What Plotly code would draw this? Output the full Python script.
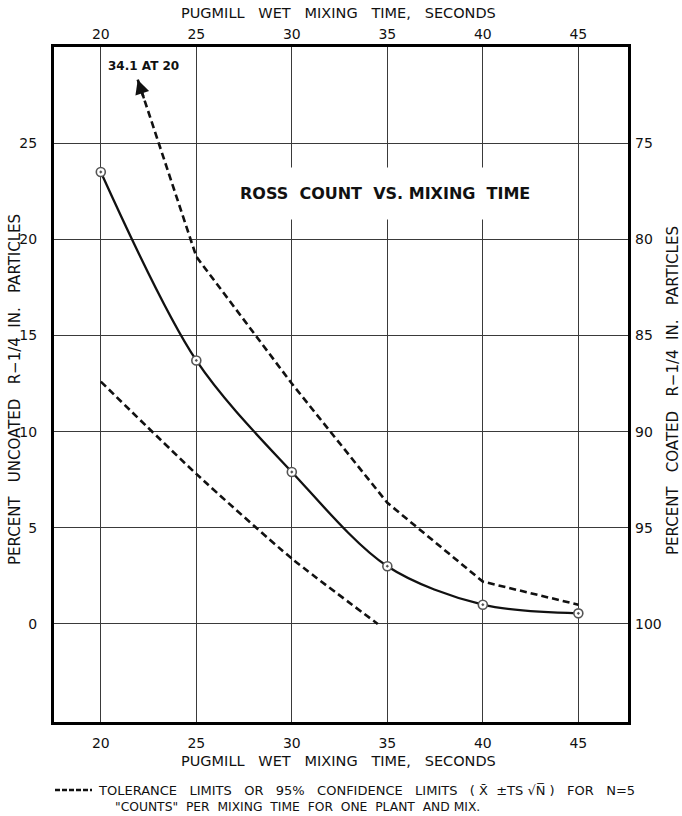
import plotly.graph_objects as go

# ---------------- data ----------------
TIME = [20, 25, 30, 35, 40, 45]
ROSS_COUNT = [23.5, 13.7, 7.9, 3.0, 1.0, 0.55]
UPPER_LIMIT = [34.1, 19.1, 12.5, 6.3, 2.2, 1.0]
LOWER_TIME = [20, 25, 30, 34.5]
LOWER_LIMIT = [12.6, 7.8, 3.4, 0.0]
X_TICKS = [20, 25, 30, 35, 40, 45]
Y_TICKS = [0, 5, 10, 15, 20, 25]
Y2_TICKS = [75, 80, 85, 90, 95, 100]
UPPER_LABEL = "34.1 AT 20"
ARROW_TIP_Y = 28.3   # where the off-scale upper limit line is cut with an arrow

X_RANGE = [17.55, 47.6]
Y_RANGE = [-5.1, 30.0]

FONT = "DejaVu Sans, Verdana, sans-serif"
INK = "#111111"

# layout helpers (figure pixel -> paper)
W, H = 682, 816
ML, MR, MT, MB = 54, 54, 47, 94
PW, PH = W - ML - MR, H - MT - MB


def px(x):
    return (x - ML) / PW


def py(y):
    return (H - MB - y) / PH


# cut point of the first upper-limit segment
t = (UPPER_LIMIT[0] - ARROW_TIP_Y) / (UPPER_LIMIT[0] - UPPER_LIMIT[1])
tip_x = TIME[0] + t * (TIME[1] - TIME[0])
t2 = t + 0.07
tail_x = TIME[0] + t2 * (TIME[1] - TIME[0])
tail_y = UPPER_LIMIT[0] + t2 * (UPPER_LIMIT[1] - UPPER_LIMIT[0])

fig = go.Figure()

dash_style = dict(color=INK, width=2.6, dash="7px,4px")

fig.add_trace(go.Scatter(
    x=[tip_x] + TIME[1:], y=[ARROW_TIP_Y] + UPPER_LIMIT[1:],
    mode="lines", line=dash_style, hoverinfo="skip", showlegend=False))

fig.add_trace(go.Scatter(
    x=LOWER_TIME, y=LOWER_LIMIT, mode="lines",
    line=dict(dash_style, shape="spline", smoothing=0.6),
    hoverinfo="skip", showlegend=False))

fig.add_trace(go.Scatter(
    x=TIME, y=ROSS_COUNT, mode="lines+markers",
    line=dict(color=INK, width=2.3, shape="spline", smoothing=0.9),
    marker=dict(symbol="circle-dot", size=9, color="white",
                line=dict(color="#555555", width=1.6)),
    showlegend=False))

# invisible trace for the secondary (top / right) axes
fig.add_trace(go.Scatter(
    x=TIME, y=[100 - v for v in ROSS_COUNT], xaxis="x2", yaxis="y2",
    mode="markers", marker=dict(opacity=0), hoverinfo="skip", showlegend=False))

tickfont = dict(family=FONT, size=14, color=INK)
axis_common = dict(
    showgrid=True, gridcolor="#3a3a3a", gridwidth=1.4,
    showline=True, linecolor="black", linewidth=3, mirror=True,
    ticks="", zeroline=False, tickfont=tickfont,
)

fig.update_layout(
    width=W, height=H,
    margin=dict(l=ML, r=MR, t=MT, b=MB, pad=0),
    paper_bgcolor="white", plot_bgcolor="white",
    font=dict(family=FONT, color=INK),
    xaxis=dict(axis_common, range=X_RANGE, tickvals=X_TICKS, ticklabelstandoff=6),
    yaxis=dict(axis_common, range=Y_RANGE, tickvals=Y_TICKS, ticklabelstandoff=11),
    xaxis2=dict(overlaying="x", side="top", anchor="y", range=X_RANGE,
                tickvals=X_TICKS, showgrid=False, zeroline=False, ticks="",
                showline=False, ticklabelstandoff=4, tickfont=tickfont),
    yaxis2=dict(overlaying="y", side="right", anchor="x",
                range=[100 - Y_RANGE[0], 100 - Y_RANGE[1]],
                tickvals=Y2_TICKS, showgrid=False, zeroline=False, ticks="",
                showline=False, ticklabelstandoff=6, tickfont=tickfont),
)

NB = "\u00a0"
S2 = NB * 2
S3 = NB * 3


def note(text, x, y, size, bold=False, angle=0, xanchor="center", **kw):
    f = dict(family=FONT, size=size, color=INK)
    if bold:
        f["weight"] = "bold"
    return dict(text=text, x=px(x), y=py(y), xref="paper", yref="paper",
                xanchor=xanchor, yanchor="middle", showarrow=False,
                textangle=angle, font=f, **kw)


XTITLE = "PUGMILL" + S3 + "WET" + S3 + "MIXING" + S3 + "TIME," + S3 + "SECONDS"

annotations = [
    note("ROSS" + S2 + "COUNT" + S2 + "VS." + NB + "MIXING" + S2 + "TIME",
         385, 194, 16, bold=True, bgcolor="white", borderpad=16),
    note(UPPER_LABEL, 143, 66, 12, bold=True),
    dict(x=tip_x, y=ARROW_TIP_Y, ax=tail_x, ay=tail_y, xref="x", yref="y",
         axref="x", ayref="y", text="", showarrow=True, arrowhead=2,
         arrowsize=1.2, arrowwidth=2.4, arrowcolor=INK, standoff=0),
    note(XTITLE, 338, 13, 14.5),
    note(XTITLE, 338, 761, 14.5),
    note("PERCENT" + S3 + "UNCOATED" + S3 + "R\u22121/4" + S2 + "IN." + S3 + "PARTICLES",
         15, 390, 15, angle=-90),
    note("PERCENT" + S3 + "COATED" + S3 + "R\u22121/4" + S2 + "IN." + S3 + "PARTICLES",
         673, 391, 15, angle=-90),
    note("TOLERANCE" + S3 + "LIMITS" + S3 + "OR" + S3 + "95%" + S3 + "CONFIDENCE" + S3
         + "LIMITS" + S3 + "(" + NB + "X\u0304" + S2 + "\u00b1TS" + NB + "\u221aN\u0305" + NB + ")" + S3
         + "FOR" + S3 + "N=5", 96, 790, 13, xanchor="left"),
    note("\"COUNTS\"" + S2 + "PER" + S2 + "MIXING" + S2 + "TIME" + S2 + "FOR" + S2 + "ONE" + S2
         + "PLANT" + S2 + "AND" + NB + "MIX.", 113, 807, 12.3, xanchor="left"),
]
fig.update_layout(annotations=annotations)

# legend sample of the dashed line in the footnote
fig.add_shape(type="line", xref="paper", yref="paper",
              x0=px(55), x1=px(92), y0=py(790), y1=py(790),
              line=dict(color=INK, width=2.6, dash="5px,2px"))

fig.write_html("out.html")
